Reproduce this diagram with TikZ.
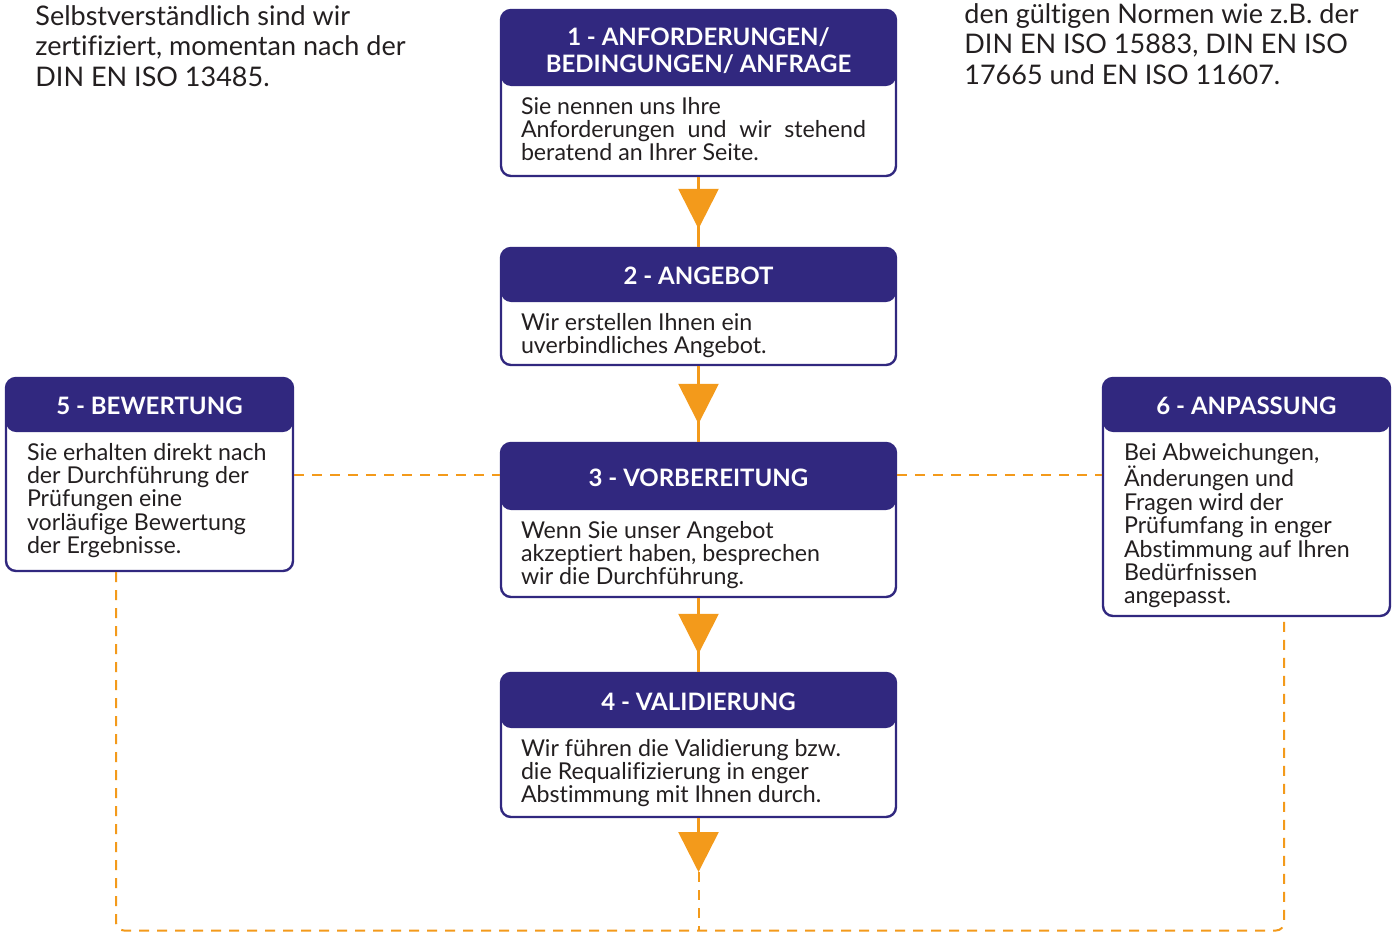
\documentclass[tikz,border=0pt]{standalone}
\usepackage{fontspec}
\setmainfont{Lato}[Ligatures=NoCommon]
\usetikzlibrary{positioning}
\usetikzlibrary{arrows.meta}
\usetikzlibrary{decorations.markings}
\definecolor{navy}{HTML}{31287F}
\definecolor{amber}{HTML}{F39A1B}
\definecolor{ink}{HTML}{231F20}
\tikzset{
    stepframe/.style = {rectangle, rounded corners=5pt, draw=navy, line width=1.2pt, fill=white, inner sep=0pt,
        path picture={\fill[navy] (path picture bounding box.north west) rectangle ([yshift=-#1]path picture bounding box.north east);}},
    stephead/.style = {rectangle, inner sep=0pt, minimum width=#1, align=center, text=white, font=\fontsize{12}{13.5}\selectfont\bfseries},
    stepbody/.style = {inner sep=0pt, align=left, anchor=north west, text=ink, font=\fontsize{11.6}{11.7}\selectfont},
    note/.style = {inner sep=0pt, align=left, anchor=south west, text=ink, font=\fontsize{13.5}{15.3}\selectfont},
    flow/.style = {amber, line width=1.3pt, postaction={decorate},
        decoration={markings, mark=at position -9pt with {\arrow{Triangle[width=20pt,length=20pt]}}}},
    flowend/.style = {amber, line width=1.3pt, -{Triangle[width=20pt,length=20pt]}},
    backline/.style = {amber, line width=1pt, dash pattern=on 5pt off 4pt}
}

\begin{document}
\begin{tikzpicture}[x=0.5pt,y=-0.5pt]
\path[use as bounding box] (0,0) rectangle (1397,932);
%
\node[note] (cert) at (35,87) {Selbstverständlich sind wir\\zertifiziert, momentan nach der\\DIN EN ISO 13485.};
\node[note] (norm) at (964,85) {den gültigen Normen wie z.B. der\\DIN EN ISO 15883, DIN EN ISO\\17665 und EN ISO 11607.};
%
\node[stepframe=38pt, minimum width=197.5pt, minimum height=83pt] at (698.5,93) (s1) {};
\node[stepframe=27pt, minimum width=197.5pt, minimum height=58.5pt] at (698.5,306.5) (s2) {};
\node[stepframe=33.5pt, minimum width=197.5pt, minimum height=77pt] at (698.5,520) (s3) {};
\node[stepframe=27.5pt, minimum width=197.5pt, minimum height=72pt] at (698.5,745) (s4) {};
\node[stepframe=27pt, minimum width=143.5pt, minimum height=96.5pt] at (149.5,474.5) (s5) {};
\node[stepframe=27pt, minimum width=143.5pt, minimum height=119pt] at (1246.5,497) (s6) {};
%
\node[stephead=197.5pt, minimum height=38pt, below=1.5pt of s1.north] (h1) {1 - ANFORDERUNGEN/\\BEDINGUNGEN/ ANFRAGE};
\node[stephead=197.5pt, minimum height=27pt, below=1pt of s2.north] (h2) {2 - ANGEBOT};
\node[stephead=197.5pt, minimum height=33.5pt, below=1pt of s3.north] (h3) {3 - VORBEREITUNG};
\node[stephead=197.5pt, minimum height=27.5pt, below=1pt of s4.north] (h4) {4 - VALIDIERUNG};
\node[stephead=143.5pt, minimum height=27pt, below=1pt of s5.north] (h5) {5 - BEWERTUNG};
\node[stephead=143.5pt, minimum height=27pt, below=1pt of s6.north] (h6) {6 - ANPASSUNG};
%
\node[stepbody, below right=4pt and 10pt of h1.south west] (b1) {Sie nennen uns Ihre\\\makebox[172.5pt][s]{Anforderungen und wir stehend}\\beratend an Ihrer Seite.};
\node[stepbody, below right=4.5pt and 10pt of h2.south west] (b2) {Wir erstellen Ihnen ein\\uverbindliches Angebot.};
\node[stepbody, below right=4.5pt and 10pt of h3.south west] (b3) {Wenn Sie unser Angebot\\akzeptiert haben, besprechen\\wir die Durchführung.};
\node[stepbody, below right=4.5pt and 10pt of h4.south west] (b4) {Wir führen die Validierung bzw.\\die Requalifizierung in enger\\Abstimmung mit Ihnen durch.};
\node[stepbody, below right=4.5pt and 10.5pt of h5.south west] (b5) {Sie erhalten direkt nach\\der Durchführung der\\Prüfungen eine\\vorläufige Bewertung\\der Ergebnisse.};
\node[stepbody, below right=4.5pt and 10.5pt of h6.south west] (b6) {Bei Abweichungen,\\Änderungen und\\Fragen wird der\\Prüfumfang in enger\\Abstimmung auf Ihren\\Bedürfnissen\\angepasst.};
%
\coordinate (tip) at (698.5,872);
\coordinate (base) at (698.5,930.5);
%
\draw[flow] (s1) -- (s2);
\draw[flow] (s2) -- (s3);
\draw[flow] (s3) -- (s4);
\draw[flowend] (s4) -- (tip);
\draw[backline] (tip) -- (base);
\draw[backline] (s5.east) -- (s5.east -| s3.west);
\draw[backline] (s5.east -| s3.east) -- (s5.east -| s6.west);
\draw[backline, rounded corners=4pt] ([xshift=-16.75pt]s5.south) |- (base) -| ([xshift=18.75pt]s6.south);

\end{tikzpicture}
\end{document}
